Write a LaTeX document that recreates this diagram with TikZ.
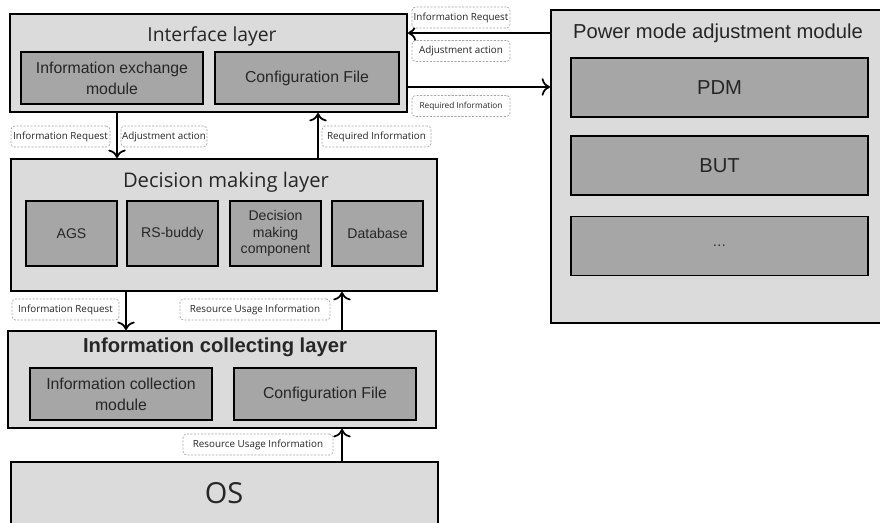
\documentclass[tikz,border=0pt]{standalone}
\usepackage{fontspec}
\usetikzlibrary{arrows.meta}
\setmainfont{Liberation Sans}
\newfontfamily\segoe{Open Sans}
\definecolor{layergray}{gray}{0.86}
\definecolor{boxgray}{gray}{0.65}
\definecolor{tagline}{gray}{0.65}
\begin{document}
\begin{tikzpicture}[x=0.02cm, y=-0.02cm,
    layer/.style={draw, line width=1.2pt, fill=layergray, inner sep=0pt},
    part/.style={draw, line width=1pt, fill=boxgray, inner sep=0pt, align=center,
      text=black!85, font=\fontsize{9}{12}\selectfont},
    title/.style={text=black!85, inner sep=0pt},
    tag/.style={draw=tagline, dash pattern=on 1.2pt off 0.8pt, rounded corners=2pt, fill=white,
      inner sep=0pt, minimum height=0.42cm, text=black!85, font=\segoe\fontsize{5.6}{6}\selectfont},
    arr/.style={-{To[scale=1.25]}, line width=1pt}]
  \useasboundingbox (0,0) rectangle (880,523);
  \clip (0,0) rectangle (880,523);

  % Draw the layers
  \node[layer, minimum width=7.94cm, minimum height=1.96cm] (iface) at (208.5,63) {};
  \node[layer, minimum width=8.52cm, minimum height=2.64cm] (decide) at (224,225) {};
  \node[layer, minimum width=8.56cm, minimum height=1.94cm] (collect) at (222,379.5) {};
  \node[layer, minimum width=8.54cm, minimum height=1.6cm] (os) at (224.5,502) {};
  \node[layer, minimum width=6.8cm, minimum height=6.26cm] (power) at (721,166.5) {};

  % Draw the titles
  \node[title, font=\segoe\fontsize{11}{13}\selectfont] (ifacetitle) at (212,36) {Interface layer};
  \node[title, font=\segoe\fontsize{11.5}{13}\selectfont] (decidetitle) at (226,182) {Decision making layer};
  \node[title, font=\bfseries\fontsize{11.5}{13}\selectfont] (collecttitle) at (215,347) {Information collecting layer};
  \node[title, font=\segoe\fontsize{16.5}{18}\selectfont] (ostitle) at (224,493) {OS};
  \node[title, font=\fontsize{11.5}{13}\selectfont] (powertitle) at (718,33) {Power mode adjustment module};

  % Draw the modules
  \node[part, minimum width=3.64cm, minimum height=1.04cm] (exch) at (112,78) {Information exchange\\module};
  \node[part, minimum width=3.68cm, minimum height=1.04cm] (icfg) at (307,78) {Configuration File};

  \node[part, minimum width=1.82cm, minimum height=1.3cm, font=\fontsize{8}{9.6}\selectfont] (ags) at (71.5,233.5) {AGS};
  \node[part, minimum width=1.82cm, minimum height=1.3cm, font=\fontsize{8}{9.6}\selectfont] (rsb) at (172.5,233.5) {RS-buddy};
  \node[part, minimum width=1.82cm, minimum height=1.3cm, font=\fontsize{8}{9.6}\selectfont] (dmc) at (275.5,233.5) {Decision\\making\\component};
  \node[part, minimum width=1.82cm, minimum height=1.3cm, font=\fontsize{8}{9.6}\selectfont] (db) at (377.5,233.5) {Database};

  \node[part, minimum width=3.64cm, minimum height=1.04cm] (icm) at (121,394) {Information collection\\module};
  \node[part, minimum width=3.64cm, minimum height=1.04cm] (ccfg) at (325,394) {Configuration File};

  \node[part, minimum width=5.94cm, minimum height=1.18cm, font=\fontsize{11.5}{13}\selectfont] (pdm) at (719.5,87.5) {PDM};
  \node[part, minimum width=5.94cm, minimum height=1.18cm, font=\fontsize{11.5}{13}\selectfont] (but) at (719.5,165.5) {BUT};
  \node[part, minimum width=5.94cm, minimum height=1.18cm, font=\fontsize{8}{9}\selectfont] (more) at (719.5,246) {\dots};

  % Draw the edges
  \draw[arr] (power.west |- 0,33) -- (iface.east |- 0,33);
  \draw[arr] (iface.east |- 0,87) -- (power.west |- 0,87);
  \draw[arr] (iface.south -| 117,0) -- (decide.north -| 117,0);
  \draw[arr] (decide.north -| 318,0) -- (iface.south -| 318,0);
  \draw[arr] (decide.south -| 126,0) -- (collect.north -| 126,0);
  \draw[arr] (collect.north -| 342,0) -- (decide.south -| 342,0);
  \draw[arr] (os.north -| 342,0) -- (collect.south -| 342,0);

  % Draw the labels
  \node[tag, minimum width=1.96cm] (req1) at (461,17.5) {Information Request};
  \node[tag, minimum width=1.96cm] (adj1) at (461,51) {Adjustment action};
  \node[tag, minimum width=1.96cm, font=\segoe\fontsize{4.7}{5}\selectfont] (need1) at (461,106) {Required Information};
  \node[tag, minimum width=1.98cm] (req2) at (60.5,136.5) {Information Request};
  \node[tag, minimum width=1.72cm] (adj2) at (164,136.5) {Adjustment action};
  \node[tag, minimum width=2.18cm] (need2) at (376.5,136.5) {Required Information};
  \node[tag, minimum width=2.14cm] (req3) at (65.5,309.5) {Information Request};
  \node[tag, minimum width=3cm] (use3) at (255,309.5) {Resource Usage Information};
  \node[tag, minimum width=3cm] (use4) at (258,444.5) {Resource Usage Information};
\end{tikzpicture}
\end{document}
